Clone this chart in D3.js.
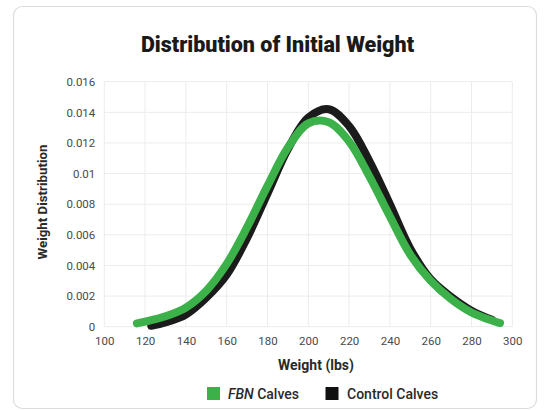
<!DOCTYPE html>
<html>
<head>
<meta charset="utf-8">
<script src="https://cdn.jsdelivr.net/npm/d3@7"></script>
<style>
  html, body { margin: 0; padding: 0; background: #ffffff; }
  svg { display: block; }
  text { font-family: Roboto, "Noto Sans", sans-serif; }
</style>
</head>
<body>
<svg id="chart" width="544" height="410"></svg>
<script>
// ---- data ----
const xTicks = [100, 120, 140, 160, 180, 200, 220, 240, 260, 280, 300];
const yTicks = [0, 0.002, 0.004, 0.006, 0.008, 0.01, 0.012, 0.014, 0.016];
const yTickLabels = ["0", "0.002", "0.004", "0.006", "0.008", "0.01", "0.012", "0.014", "0.016"];

const fbnWeight  = [116, 120, 130, 140, 150, 160, 170, 180, 190, 200, 210, 220, 230, 240, 250, 260, 270, 280, 290, 294];
const fbnDensity = [0.00022, 0.00033, 0.00068, 0.00125, 0.00235, 0.0041, 0.0065, 0.0092, 0.0117, 0.01328, 0.01335, 0.0121, 0.0098, 0.0072, 0.0047, 0.003, 0.0018, 0.00093, 0.0004, 0.00024];

const ctlWeight  = [123, 130, 140, 150, 160, 170, 180, 190, 200, 210, 220, 230, 240, 250, 260, 270, 280, 290];
const ctlDensity = [0.00006, 0.00028, 0.0008, 0.0019, 0.0034, 0.0058, 0.0087, 0.0116, 0.01365, 0.0142, 0.0131, 0.0108, 0.0080, 0.0051, 0.0031, 0.00195, 0.00105, 0.00045];

const seriesNames = ["FBN", "Control Calves"];

// ---- layout ----
const svg = d3.select("#chart");

svg.append("rect")
  .attr("x", 13.5).attr("y", 6.5).attr("width", 523).attr("height", 402)
  .attr("rx", 9).attr("ry", 9)
  .attr("fill", "#ffffff").attr("stroke", "#dcdcdc").attr("stroke-width", 1.2);

const x = d3.scaleLinear().domain([100, 300]).range([104.3, 512.3]);
const y = d3.scaleLinear().domain([0, 0.016]).range([326.7, 81.7]);

// grid
const grid = svg.append("g");
grid.selectAll("line.v").data(xTicks).enter().append("line")
  .attr("x1", d => x(d)).attr("x2", d => x(d))
  .attr("y1", y(0.016)).attr("y2", y(0))
  .attr("stroke", "#ececec").attr("stroke-width", 1);
grid.selectAll("line.h").data(yTicks).enter().append("line")
  .attr("x1", x(100)).attr("x2", x(300))
  .attr("y1", d => y(d)).attr("y2", d => y(d))
  .attr("stroke", "#ececec").attr("stroke-width", 1);

// axes (labels only)
const xAxis = d3.axisBottom(x).tickValues(xTicks).tickSize(0).tickPadding(10);
const gx = svg.append("g").attr("transform", `translate(0,${y(0)})`).call(xAxis);
gx.select(".domain").remove();
gx.selectAll("text").attr("font-size", 11.5).attr("fill", "#4a4a4a")
  .attr("font-family", "Roboto, sans-serif");

const yAxis = d3.axisLeft(y).tickValues(yTicks).tickSize(0).tickPadding(9)
  .tickFormat((d, i) => yTickLabels[i]);
const gy = svg.append("g").attr("transform", `translate(${x(100)},0)`).call(yAxis);
gy.select(".domain").remove();
gy.selectAll("text").attr("font-size", 11.5).attr("fill", "#4a4a4a")
  .attr("font-family", "Roboto, sans-serif");

// curves
const line = d3.line().curve(d3.curveCatmullRom.alpha(0.5))
  .x(d => x(d[0])).y(d => y(d[1]));

const ctl = ctlWeight.map((w, i) => [w, ctlDensity[i]]);
const fbn = fbnWeight.map((w, i) => [w, fbnDensity[i]]);

svg.append("path").datum(ctl).attr("d", line)
  .attr("fill", "none").attr("stroke", "#1b1b1b").attr("stroke-width", 8)
  .attr("stroke-linecap", "round").attr("stroke-linejoin", "round");
svg.append("path").datum(fbn).attr("d", line)
  .attr("fill", "none").attr("stroke", "#3cb14a").attr("stroke-width", 8)
  .attr("stroke-linecap", "round").attr("stroke-linejoin", "round");

// titles
svg.append("text").attr("x", 277.5).attr("y", 51.5)
  .attr("text-anchor", "middle").attr("font-size", 21.5).attr("font-weight", 900)
  .attr("fill", "#1a1a1a").text("Distribution of Initial Weight");

svg.append("text").attr("transform", "translate(47,202) rotate(-90)")
  .attr("text-anchor", "middle").attr("font-size", 13.3).attr("font-weight", 700)
  .attr("fill", "#2a2a2a").text("Weight Distribution");

svg.append("text").attr("x", 316).attr("y", 370)
  .attr("text-anchor", "middle").attr("font-size", 14).attr("font-weight", 700)
  .attr("fill", "#2a2a2a").text("Weight (lbs)");

// legend
const lg = svg.append("g");
lg.append("rect").attr("x", 207).attr("y", 387).attr("width", 13).attr("height", 13).attr("fill", "#3cb14a");
const t1 = lg.append("text").attr("x", 228).attr("y", 398.5).attr("font-size", 14).attr("font-weight", 500).attr("fill", "#2a2a2a");
t1.append("tspan").attr("font-style", "italic").text(seriesNames[0]);
t1.append("tspan").text(" Calves");
lg.append("rect").attr("x", 325.5).attr("y", 387).attr("width", 13).attr("height", 13).attr("fill", "#111111");
lg.append("text").attr("x", 347).attr("y", 398.5).attr("font-size", 14).attr("font-weight", 500).attr("fill", "#2a2a2a").text(seriesNames[1]);
</script>
</body>
</html>
